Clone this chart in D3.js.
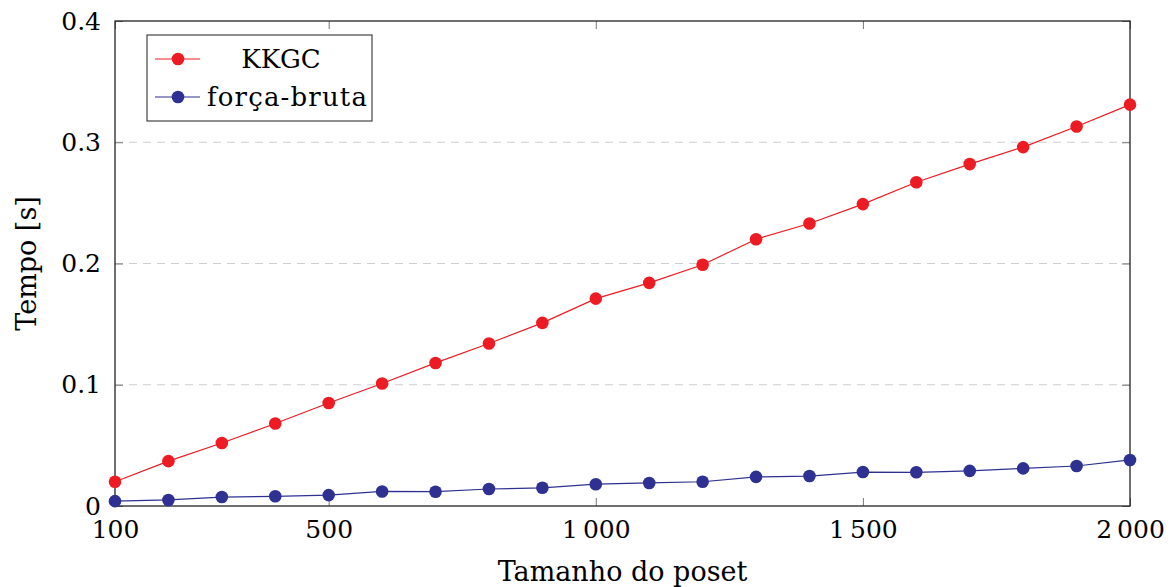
<!DOCTYPE html>
<html><head><meta charset="utf-8">
<script src="https://cdn.jsdelivr.net/npm/d3@7"></script>
<style>
body{margin:0;background:#fff;}
text{font-family:"DejaVu Serif",serif;fill:#000;}
</style></head><body>
<svg id="c" width="1175" height="587"></svg>
<script>
const sizes = [100,200,300,400,500,600,700,800,900,1000,1100,1200,1300,1400,1500,1600,1700,1800,1900,2000];
const kkgc = [0.020,0.037,0.052,0.068,0.085,0.101,0.118,0.134,0.151,0.171,0.184,0.199,0.220,0.233,0.249,0.267,0.282,0.296,0.313,0.331];
const forca = [0.004,0.005,0.0074,0.008,0.009,0.012,0.0118,0.014,0.015,0.018,0.019,0.020,0.024,0.0247,0.028,0.0278,0.029,0.031,0.033,0.038];
const xTicks = [100,500,1000,1500,2000];
const yTicks = [0,0.1,0.2,0.3,0.4];
const seriesNames = ["KKGC","força-bruta"];
const seriesColors = ["#ED1C24","#2E3192"];

const svg = d3.select("#c");
const L=115,R=1130,T=21,B=506;
const x = d3.scaleLinear().domain([100,2000]).range([L,R]);
const y = d3.scaleLinear().domain([0,0.4]).range([B,T]);
const fmtX = d => d>=1000 ? d3.format(",")(d).replace(",", "\u2009") : String(d);
const fmtY = d => d===0 ? "0" : d3.format(".1f")(d);

// grid
svg.append("g").selectAll("line").data(yTicks.filter(d=>d>0&&d<0.4)).join("line")
  .attr("x1",L).attr("x2",R).attr("y1",d=>y(d)).attr("y2",d=>y(d))
  .attr("stroke","#cfcfcf").attr("stroke-width",1.2).attr("stroke-dasharray","8,6");

// axes with inward ticks
const axB = d3.axisBottom(x).tickValues(xTicks).tickSize(-8).tickPadding(14).tickFormat(fmtX);
const axT = d3.axisTop(x).tickValues(xTicks).tickSize(-8).tickFormat("");
const axL = d3.axisLeft(y).tickValues(yTicks).tickSize(-8).tickPadding(14).tickFormat(fmtY);
const axR = d3.axisRight(y).tickValues(yTicks).tickSize(-8).tickFormat("");
function style(g){g.select(".domain").remove();g.selectAll(".tick line").attr("stroke","#777");
  g.selectAll("text").attr("font-size",25).style("font-family",'"DejaVu Serif",serif').attr("fill","#000");}
svg.append("g").attr("transform",`translate(0,${B})`).call(axB).call(style);
svg.append("g").attr("transform",`translate(0,${T})`).call(axT).call(style);
svg.append("g").attr("transform",`translate(${L},0)`).call(axL).call(style);
svg.append("g").attr("transform",`translate(${R},0)`).call(axR).call(style);
svg.append("rect").attr("x",L).attr("y",T).attr("width",R-L).attr("height",B-T)
  .attr("fill","none").attr("stroke","#222").attr("stroke-width",1.3);

// series
const allSeries=[kkgc,forca];
const line = d3.line().x((d,i)=>x(sizes[i])).y(d=>y(d));
allSeries.forEach((s,k)=>{
  svg.append("path").datum(s).attr("d",line).attr("fill","none").attr("stroke",seriesColors[k]).attr("stroke-width",1.2);
  svg.append("g").selectAll("circle").data(s).join("circle")
    .attr("cx",(d,i)=>x(sizes[i])).attr("cy",d=>y(d)).attr("r",6.3).attr("fill",seriesColors[k]);
});

// axis labels
svg.append("text").attr("x",(L+R)/2).attr("y",581).attr("text-anchor","middle")
  .attr("font-size",27).text("Tamanho do poset");
svg.append("text").attr("transform",`translate(36,${(T+B)/2}) rotate(-90)`).attr("text-anchor","middle")
  .attr("font-size",27).text("Tempo [s]");

// legend
const lg = svg.append("g");
lg.append("rect").attr("x",147).attr("y",35).attr("width",225).attr("height",86)
  .attr("fill","#fff").attr("stroke","#444").attr("stroke-width",1.2);
seriesNames.forEach((n,k)=>{
  const yy = 59 + k*38;
  lg.append("line").attr("x1",155).attr("x2",200).attr("y1",yy).attr("y2",yy).attr("stroke",seriesColors[k]).attr("stroke-width",1.2);
  lg.append("circle").attr("cx",178).attr("cy",yy).attr("r",6.3).attr("fill",seriesColors[k]);
  lg.append("text").attr("x",k===0?281:207).attr("y",yy+9).attr("text-anchor",k===0?"middle":"start")
    .attr("font-size",26).attr("textLength",k===0?null:160).text(n);
});
</script></body></html>
